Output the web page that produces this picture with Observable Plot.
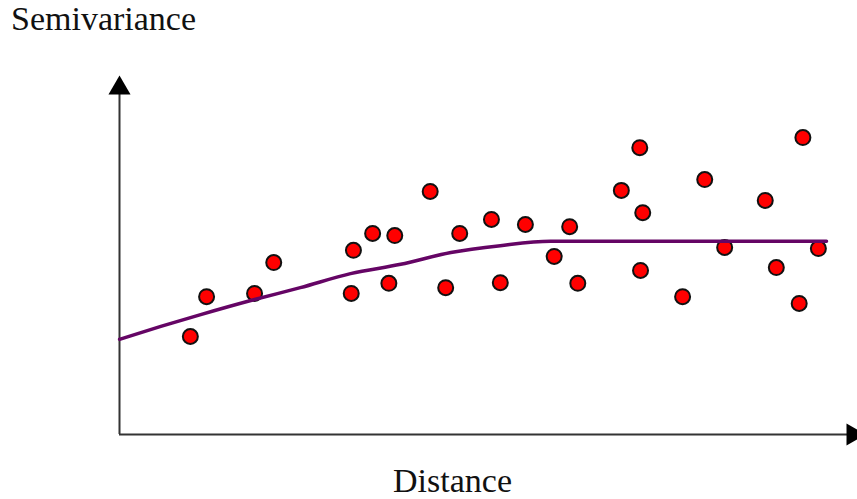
<!DOCTYPE html>
<html>
<head>
<meta charset="utf-8">
<script src="https://cdn.jsdelivr.net/npm/d3@7"></script>
<script src="https://cdn.jsdelivr.net/npm/@observablehq/plot@0.6"></script>
<style>
  html, body { margin: 0; padding: 0; background: #fff; }
  #wrap { position: relative; width: 857px; height: 499px; overflow: hidden; }
  .lbl { position: absolute; font-family: "Liberation Serif", "Times New Roman", serif; font-size: 34px; line-height: 34px; color: #111; white-space: nowrap; }
  #title { left: 11px; top: 2px; }
  #caption { left: 0; width: 905px; text-align: center; top: 464px; }
  #chart { position: absolute; left: 0; top: 56px; }
</style>
</head>
<body>
<div id="wrap">
  <div id="title" class="lbl">Semivariance</div>
  <div id="chart"></div>
  <div id="caption" class="lbl">Distance</div>
</div>
<script>
// Observed semivariance (distance, semivariance)
const distance = [9.6, 11.8, 18.3, 20.9, 31.4, 31.7, 34.3, 36.5, 37.3, 42.1,
                  44.2, 46.1, 50.4, 51.6, 55.0, 58.9, 61.0, 62.1, 68.0, 70.5,
                  70.9, 70.6, 76.3, 79.3, 82.0, 87.5, 89.0, 92.1, 92.6, 94.7];
const semivariance = [27.3, 38.4, 39.3, 47.9, 39.3, 51.3, 56.0, 42.1, 55.4, 67.7,
                      40.9, 56.0, 59.9, 42.3, 58.5, 49.6, 57.9, 42.1, 68.0, 79.9,
                      61.8, 45.7, 38.4, 71.0, 52.1, 65.2, 46.5, 36.5, 82.7, 51.8];

// Fitted model curve
const modelDistance = [0, 5.6, 11.0, 18.3, 24.5, 31.3, 38.1, 44.9, 51.6, 58.4, 95.8];
const modelValue    = [26.5, 30.1, 33.4, 37.6, 40.9, 44.8, 47.4, 50.7, 52.6, 53.8, 53.8];

const points = distance.map((d, i) => ({d, s: semivariance[i]}));
const model = modelDistance.map((d, i) => ({d, s: modelValue[i]}));

const chart = Plot.plot({
  width: 857,
  height: 400,
  marginLeft: 119,
  marginRight: 0,
  marginTop: 19,
  marginBottom: 22,
  style: {overflow: "visible", background: "transparent"},
  x: {domain: [0, 100], axis: null},
  y: {domain: [0, 100], axis: null},
  marks: [
    Plot.ruleY([0], {x1: 0, x2: 99, stroke: "#333", strokeWidth: 2}),
    Plot.ruleX([0], {y1: 0, y2: 95, stroke: "#333", strokeWidth: 2}),
    Plot.dot([{x: 0, y: 100}], {x: "x", y: "y", symbol: "triangle", r: 8.2, fill: "#000", stroke: "none", dy: 12.7}),
    Plot.dot([{x: 100, y: 0}], {x: "x", y: "y", symbol: "triangle", r: 8.2, fill: "#000", stroke: "none", rotate: 90, dx: -4.6}),
    Plot.dot(points, {x: "d", y: "s", r: 7.5, fill: "#ff0000", stroke: "#111", strokeWidth: 2}),
    Plot.line(model, {x: "d", y: "s", stroke: "#650565", strokeWidth: 3.5, curve: "monotone-x"})
  ]
});
document.getElementById("chart").appendChild(chart);
</script>
</body>
</html>
